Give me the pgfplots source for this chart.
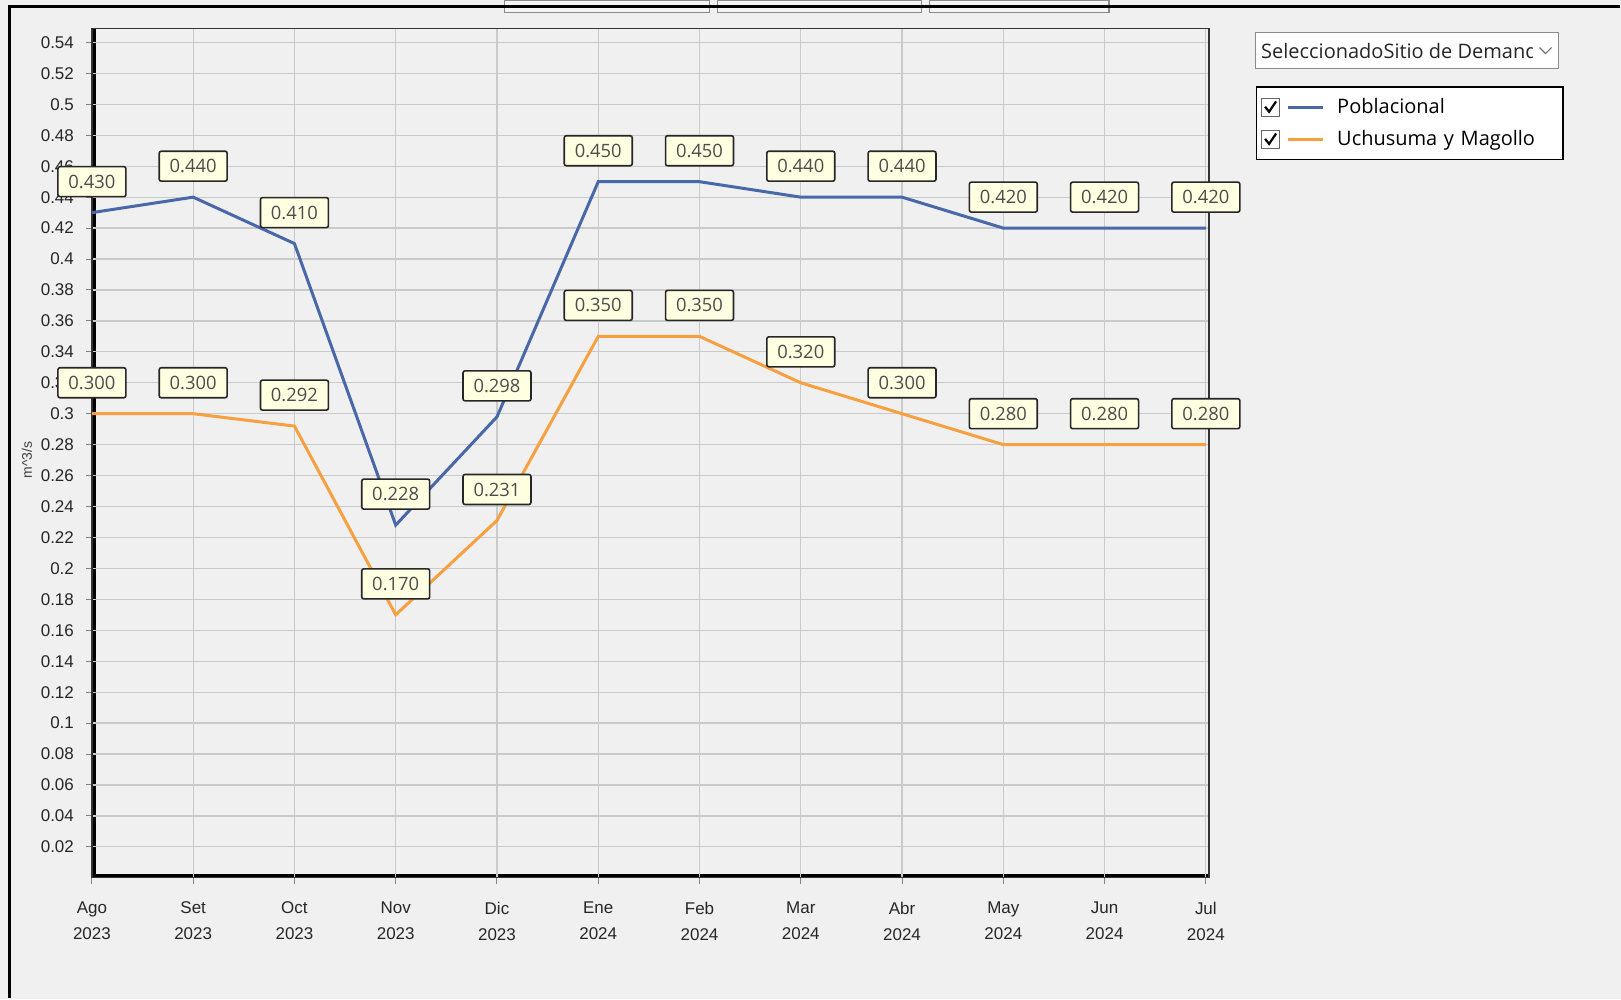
\documentclass[border=0pt]{standalone}
\usepackage{fontspec}
\setmainfont{Liberation Sans}
\newfontfamily\guifont{Open Sans}
\usepackage{pgfplots}
\pgfplotsset{compat=1.18}
\definecolor{bg}{RGB}{240,240,240}
\definecolor{gridc}{RGB}{202,202,202}
\definecolor{pob}{RGB}{72,104,168}
\definecolor{uch}{RGB}{247,160,64}
\definecolor{tip}{RGB}{255,255,225}
\pagecolor{bg}
\begin{document}
\begin{tikzpicture}
\path (0pt,0pt) rectangle (810.5pt,499pt);
% cut-off combo boxes at the top
\draw[black!45, fill=bg!70!white, line width=0.6pt] (252.5pt,493pt) rectangle (355pt,499pt);
\draw[black!45, fill=bg!70!white, line width=0.6pt] (359pt,493pt) rectangle (461pt,499pt);
\draw[black!45, fill=bg!70!white, line width=0.6pt] (465pt,493pt) rectangle (555pt,499pt);
% window frame
\draw[black, line width=1.5pt] (5pt,0pt) -- (5pt,496pt) -- (810.5pt,496pt);

\begin{axis}[
  at={(46pt,60pt)}, anchor=south west, scale only axis,
  width=559pt, height=425pt,
  xmin=0, xmax=11.03, ymin=0, ymax=0.549,
  set layers, clip=false,
  axis background/.style={fill=bg,
     path picture={\draw[black, line width=4pt]
        (path picture bounding box.north west) -- (path picture bounding box.south west)
        -- (path picture bounding box.south east);}},
  grid=major, major grid style={gridc, line width=0.6pt},
  axis line style={black!80, line width=0.7pt},
  tick align=outside, tick pos=left,
  major tick length=3pt,
  tick style={black!50, line width=0.5pt},
  /pgf/number format/assume math mode=true,
  ytick={0.02,0.04,0.06,0.08,0.1,0.12,0.14,0.16,0.18,0.2,0.22,0.24,0.26,0.28,0.3,0.32,0.34,0.36,0.38,0.4,0.42,0.44,0.46,0.48,0.5,0.52,0.54},
  y tick label style={font=\fontsize{8.5}{10}\selectfont, text=black!85, xshift=-2.5pt,
     /pgf/number format/.cd, fixed, precision=2},
  xtick={0,1,2,3,4,5,6,7,8,9,10,11},
  xticklabels={{Ago\\2023},{Set\\2023},{Oct\\2023},{Nov\\2023},{Dic\\2023},{Ene\\2024},{Feb\\2024},{Mar\\2024},{Abr\\2024},{May\\2024},{Jun\\2024},{Jul\\2024}},
  x tick label style={font=\fontsize{8.5}{13}\selectfont, text=black!85, align=center,
     yshift=-5.5pt},
  point meta=explicit symbolic,
  nodes near coords={\guifont\fontsize{9.2}{11}\selectfont\pgfplotspointmeta},
  every node near coord/.append style={anchor=center, yshift=15.5pt, draw=black!85, fill=tip,
     line width=0.8pt, rounded corners=1pt, minimum width=34pt, minimum height=15pt,
     inner sep=0pt, text=black!70},
  legend style={at={(1.042,0.9318)}, anchor=north west, draw=black, line width=0.8pt, fill=white,
     font=\guifont\fontsize{10}{12}\selectfont, inner xsep=2pt, inner ysep=3.5pt, row sep=3pt,
     /tikz/every odd column/.append style={column sep=4.5pt},
     /tikz/every even column/.append style={nodes={text width=109pt}}},
  legend cell align=left,
  legend image code/.code={
    \draw[black!60, fill=white, line width=0.5pt, solid] (0pt,-4.5pt) rectangle (9pt,4.5pt);
    \draw[black, line width=1.1pt, solid] (2pt,0.3pt) -- (4pt,-2.2pt) -- (7.5pt,3pt);
    \draw[line width=1.2pt] (13.5pt,0pt) -- (31pt,0pt);
  },
]
\addplot[pob, line width=1.5pt] coordinates {
 (0,0.430)[0.430] (1,0.440)[0.440] (2,0.410)[0.410] (3,0.228)[0.228]
 (4,0.298)[0.298] (5,0.450)[0.450] (6,0.450)[0.450] (7,0.440)[0.440]
 (8,0.440)[0.440] (9,0.420)[0.420] (10,0.420)[0.420] (11,0.420)[0.420]};
\addlegendentry{Poblacional}
\addplot[uch, line width=1.5pt] coordinates {
 (0,0.300)[0.300] (1,0.300)[0.300] (2,0.292)[0.292] (3,0.170)[0.170]
 (4,0.231)[0.231] (5,0.350)[0.350] (6,0.350)[0.350] (7,0.320)[0.320]
 (8,0.300)[0.300] (9,0.280)[0.280] (10,0.280)[0.280] (11,0.280)[0.280]};
\addlegendentry{Uchusuma y Magollo}
\end{axis}

% y axis unit
\node[rotate=90, font=\fontsize{7}{8}\selectfont, text=black!75] at (13.5pt,269pt) {m\textasciicircum 3/s};
% selector box
\draw[black!45, fill=white, line width=0.6pt] (628.5pt,465pt) rectangle (780pt,483pt);
\begin{scope}
\clip (629pt,465pt) rectangle (767pt,483pt);
\node[anchor=west, inner sep=0pt, font=\guifont\fontsize{10}{12}\selectfont, text=black!85] at (631pt,474pt) {SeleccionadoSitio de Demanda};
\end{scope}
\draw[black!55, line width=0.6pt] (770.5pt,475.5pt) -- (773.5pt,472.5pt) -- (776.5pt,475.5pt);
\end{tikzpicture}
\end{document}
